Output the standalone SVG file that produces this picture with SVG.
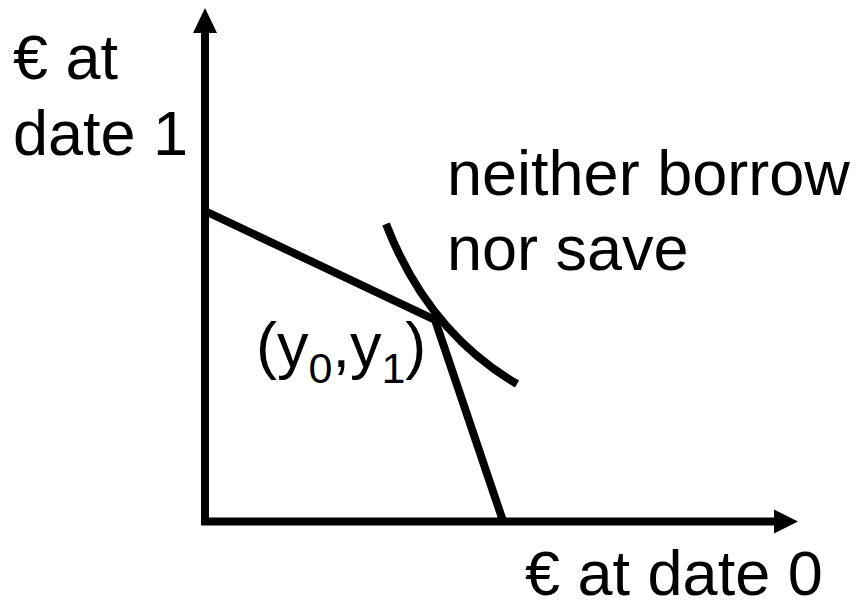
<svg xmlns="http://www.w3.org/2000/svg" width="860" height="608" viewBox="0 0 860 608">
<style>
.ln{fill:none;stroke:#000;stroke-width:8}
.t{font-family:"Liberation Sans",Arial,sans-serif;font-size:63px;fill:#000}
</style>
<rect width="860" height="608" fill="#fff"/>
<g id="connectors">
<line class="ln" x1="205" y1="28" x2="205" y2="525"/>
<polygon points="205,8 193,33 217,33" fill="#000"/>
<line class="ln" x1="201" y1="521.5" x2="778" y2="521.5"/>
<polygon points="798,521.5 774,509.5 774,533.5" fill="#000"/>
</g>
<g id="budget">
<polyline class="ln" stroke-linejoin="miter" points="205,211 435,320 503,521"/>
</g>
<g id="indifference">
<path class="ln" d="M386,224 Q428,332 517,384"/>
</g>
<g id="label-y">
<text class="t" x="13" y="79">€ at</text>
<text class="t" x="13" y="155">date 1</text>
</g>
<g id="label-curve">
<text class="t" x="447" y="195">neither borrow</text>
<text class="t" x="447" y="270">nor save</text>
</g>
<g id="label-point">
<text class="t" x="256" y="367">(y<tspan y="383" font-size="43">0</tspan><tspan y="367">,y</tspan><tspan y="383" font-size="43">1</tspan><tspan y="367">)</tspan></text>
</g>
<g id="label-x">
<text class="t" x="525" y="595">€ at date 0</text>
</g>
</svg>
